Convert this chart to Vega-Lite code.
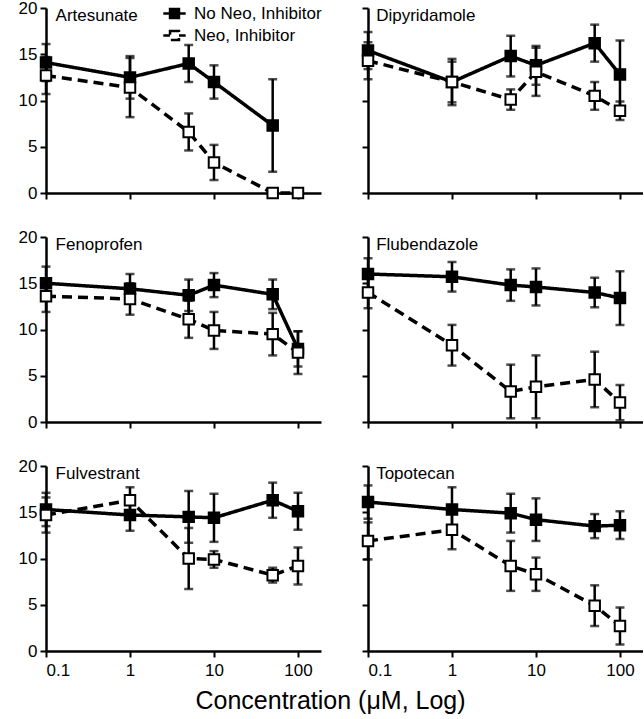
{
  "$schema": "https://vega.github.io/schema/vega-lite/v6.json",
  "padding": {"left": 18, "top": -1, "right": 0, "bottom": 4},
  "background": "white",
  "config": {
    "view": {"stroke": null},
    "font": "Liberation Sans",
    "axis": {"domainColor": "black", "domainWidth": 2.5, "tickColor": "black", "tickWidth": 2, "tickSize": 6, "labelFont": "Liberation Sans", "labelFontSize": 17, "labelColor": "black", "grid": false, "labelPadding": 3},
    "title": {"font": "Liberation Sans", "fontSize": 25, "fontWeight": "normal", "color": "black"}
  },
  "title": {"text": "Concentration (μM, Log)", "orient": "bottom", "anchor": "middle", "offset": 11},
  "columns": 2,
  "spacing": {"row": 44, "column": 47},
  "bounds": "flush",
  "datasets": {
    "d": [
      {"drug": "Artesunate", "group": "No Neo, Inhibitor", "conc": 0.1, "mean": 14.1, "err": 2.0},
      {"drug": "Artesunate", "group": "No Neo, Inhibitor", "conc": 1, "mean": 12.5, "err": 2.3},
      {"drug": "Artesunate", "group": "No Neo, Inhibitor", "conc": 5, "mean": 14.0, "err": 2.0},
      {"drug": "Artesunate", "group": "No Neo, Inhibitor", "conc": 10, "mean": 12.0, "err": 1.8},
      {"drug": "Artesunate", "group": "No Neo, Inhibitor", "conc": 50, "mean": 7.3, "err": 5.0},
      {"drug": "Artesunate", "group": "Neo, Inhibitor", "conc": 0.1, "mean": 12.7, "err": 2.0},
      {"drug": "Artesunate", "group": "Neo, Inhibitor", "conc": 1, "mean": 11.4, "err": 3.2},
      {"drug": "Artesunate", "group": "Neo, Inhibitor", "conc": 5, "mean": 6.6, "err": 2.0},
      {"drug": "Artesunate", "group": "Neo, Inhibitor", "conc": 10, "mean": 3.3, "err": 1.9},
      {"drug": "Artesunate", "group": "Neo, Inhibitor", "conc": 50, "mean": 0, "err": 0},
      {"drug": "Artesunate", "group": "Neo, Inhibitor", "conc": 100, "mean": 0, "err": 0},
      {"drug": "Dipyridamole", "group": "No Neo, Inhibitor", "conc": 0.1, "mean": 15.4, "err": 2.0},
      {"drug": "Dipyridamole", "group": "No Neo, Inhibitor", "conc": 1, "mean": 12.0, "err": 2.5},
      {"drug": "Dipyridamole", "group": "No Neo, Inhibitor", "conc": 5, "mean": 14.8, "err": 2.2},
      {"drug": "Dipyridamole", "group": "No Neo, Inhibitor", "conc": 10, "mean": 13.8, "err": 2.1},
      {"drug": "Dipyridamole", "group": "No Neo, Inhibitor", "conc": 50, "mean": 16.2, "err": 2.0},
      {"drug": "Dipyridamole", "group": "No Neo, Inhibitor", "conc": 100, "mean": 12.8, "err": 3.7},
      {"drug": "Dipyridamole", "group": "Neo, Inhibitor", "conc": 0.1, "mean": 14.3, "err": 2.0},
      {"drug": "Dipyridamole", "group": "Neo, Inhibitor", "conc": 1, "mean": 12.0, "err": 2.2},
      {"drug": "Dipyridamole", "group": "Neo, Inhibitor", "conc": 5, "mean": 10.1, "err": 1.1},
      {"drug": "Dipyridamole", "group": "Neo, Inhibitor", "conc": 10, "mean": 13.1, "err": 2.6},
      {"drug": "Dipyridamole", "group": "Neo, Inhibitor", "conc": 50, "mean": 10.5, "err": 1.5},
      {"drug": "Dipyridamole", "group": "Neo, Inhibitor", "conc": 100, "mean": 8.9, "err": 1.0},
      {"drug": "Fenoprofen", "group": "No Neo, Inhibitor", "conc": 0.1, "mean": 15.0, "err": 1.8},
      {"drug": "Fenoprofen", "group": "No Neo, Inhibitor", "conc": 1, "mean": 14.4, "err": 1.6},
      {"drug": "Fenoprofen", "group": "No Neo, Inhibitor", "conc": 5, "mean": 13.7, "err": 1.7},
      {"drug": "Fenoprofen", "group": "No Neo, Inhibitor", "conc": 10, "mean": 14.8, "err": 1.3},
      {"drug": "Fenoprofen", "group": "No Neo, Inhibitor", "conc": 50, "mean": 13.8, "err": 1.6},
      {"drug": "Fenoprofen", "group": "No Neo, Inhibitor", "conc": 100, "mean": 7.9, "err": 1.9},
      {"drug": "Fenoprofen", "group": "Neo, Inhibitor", "conc": 0.1, "mean": 13.6, "err": 1.7},
      {"drug": "Fenoprofen", "group": "Neo, Inhibitor", "conc": 1, "mean": 13.3, "err": 1.7},
      {"drug": "Fenoprofen", "group": "Neo, Inhibitor", "conc": 5, "mean": 11.1, "err": 2.0},
      {"drug": "Fenoprofen", "group": "Neo, Inhibitor", "conc": 10, "mean": 9.9, "err": 2.0},
      {"drug": "Fenoprofen", "group": "Neo, Inhibitor", "conc": 50, "mean": 9.5, "err": 2.3},
      {"drug": "Fenoprofen", "group": "Neo, Inhibitor", "conc": 100, "mean": 7.5, "err": 2.3},
      {"drug": "Flubendazole", "group": "No Neo, Inhibitor", "conc": 0.1, "mean": 16.0, "err": 1.7},
      {"drug": "Flubendazole", "group": "No Neo, Inhibitor", "conc": 1, "mean": 15.7, "err": 1.6},
      {"drug": "Flubendazole", "group": "No Neo, Inhibitor", "conc": 5, "mean": 14.8, "err": 1.7},
      {"drug": "Flubendazole", "group": "No Neo, Inhibitor", "conc": 10, "mean": 14.6, "err": 2.0},
      {"drug": "Flubendazole", "group": "No Neo, Inhibitor", "conc": 50, "mean": 14.0, "err": 1.6},
      {"drug": "Flubendazole", "group": "No Neo, Inhibitor", "conc": 100, "mean": 13.4, "err": 2.9},
      {"drug": "Flubendazole", "group": "Neo, Inhibitor", "conc": 0.1, "mean": 14.0, "err": 1.7},
      {"drug": "Flubendazole", "group": "Neo, Inhibitor", "conc": 1, "mean": 8.3, "err": 2.2},
      {"drug": "Flubendazole", "group": "Neo, Inhibitor", "conc": 5, "mean": 3.3, "err": 2.9},
      {"drug": "Flubendazole", "group": "Neo, Inhibitor", "conc": 10, "mean": 3.8, "err": 3.4},
      {"drug": "Flubendazole", "group": "Neo, Inhibitor", "conc": 50, "mean": 4.6, "err": 3.0},
      {"drug": "Flubendazole", "group": "Neo, Inhibitor", "conc": 100, "mean": 2.1, "err": 1.9},
      {"drug": "Fulvestrant", "group": "No Neo, Inhibitor", "conc": 0.1, "mean": 15.3, "err": 1.8},
      {"drug": "Fulvestrant", "group": "No Neo, Inhibitor", "conc": 1, "mean": 14.7, "err": 1.7},
      {"drug": "Fulvestrant", "group": "No Neo, Inhibitor", "conc": 5, "mean": 14.5, "err": 2.8},
      {"drug": "Fulvestrant", "group": "No Neo, Inhibitor", "conc": 10, "mean": 14.4, "err": 2.6},
      {"drug": "Fulvestrant", "group": "No Neo, Inhibitor", "conc": 50, "mean": 16.3, "err": 1.9},
      {"drug": "Fulvestrant", "group": "No Neo, Inhibitor", "conc": 100, "mean": 15.1, "err": 2.0},
      {"drug": "Fulvestrant", "group": "Neo, Inhibitor", "conc": 0.1, "mean": 14.7, "err": 1.9},
      {"drug": "Fulvestrant", "group": "Neo, Inhibitor", "conc": 1, "mean": 16.3, "err": 1.4},
      {"drug": "Fulvestrant", "group": "Neo, Inhibitor", "conc": 5, "mean": 10.0, "err": 3.3},
      {"drug": "Fulvestrant", "group": "Neo, Inhibitor", "conc": 10, "mean": 9.9, "err": 0.9},
      {"drug": "Fulvestrant", "group": "Neo, Inhibitor", "conc": 50, "mean": 8.2, "err": 0.8},
      {"drug": "Fulvestrant", "group": "Neo, Inhibitor", "conc": 100, "mean": 9.2, "err": 2.0},
      {"drug": "Topotecan", "group": "No Neo, Inhibitor", "conc": 0.1, "mean": 16.1, "err": 1.8},
      {"drug": "Topotecan", "group": "No Neo, Inhibitor", "conc": 1, "mean": 15.3, "err": 2.4},
      {"drug": "Topotecan", "group": "No Neo, Inhibitor", "conc": 5, "mean": 14.9, "err": 2.1},
      {"drug": "Topotecan", "group": "No Neo, Inhibitor", "conc": 10, "mean": 14.2, "err": 2.3},
      {"drug": "Topotecan", "group": "No Neo, Inhibitor", "conc": 50, "mean": 13.5, "err": 1.3},
      {"drug": "Topotecan", "group": "No Neo, Inhibitor", "conc": 100, "mean": 13.6, "err": 1.5},
      {"drug": "Topotecan", "group": "Neo, Inhibitor", "conc": 0.1, "mean": 11.9, "err": 2.0},
      {"drug": "Topotecan", "group": "Neo, Inhibitor", "conc": 1, "mean": 13.1, "err": 2.1},
      {"drug": "Topotecan", "group": "Neo, Inhibitor", "conc": 5, "mean": 9.2, "err": 2.7},
      {"drug": "Topotecan", "group": "Neo, Inhibitor", "conc": 10, "mean": 8.3, "err": 1.8},
      {"drug": "Topotecan", "group": "Neo, Inhibitor", "conc": 50, "mean": 4.9, "err": 2.2},
      {"drug": "Topotecan", "group": "Neo, Inhibitor", "conc": 100, "mean": 2.7, "err": 2.0}
    ]
  },
  "concat": [
      {"width": 275, "height": 185, "data": {"name": "d"}, "transform": [{"filter": {"field": "drug", "equal": "Artesunate"}}],
       "encoding": {"x": {"field": "conc", "type": "quantitative", "scale": {"type": "log", "domain": [0.1, 188]}, "axis": {"title": null, "values": [0.1, 1, 10, 100], "labels": false}},
                    "y": {"field": "mean", "type": "quantitative", "scale": {"domain": [0, 20], "nice": false}, "axis": {"title": null, "values": [0, 5, 10, 15, 20]}}},
       "layer": [
         {"mark": {"type": "line", "color": "black", "strokeWidth": 3.5}, "encoding": {"strokeDash": {"field": "group", "type": "nominal", "title": "", "scale": {"domain": ["No Neo, Inhibitor", "Neo, Inhibitor"], "range": [[1, 0], [10, 6]]}, "legend": {"orient": "none", "legendX": 116, "legendY": -7, "title": null, "labelFontSize": 17, "labelFont": "Liberation Sans", "labelColor": "black", "symbolStrokeColor": "black", "symbolStrokeWidth": 2.5, "symbolType": "M-1,0H-0.4M0.4,0H1M-0.4,-0.4H0.4V0.4H-0.4Z", "symbolSize": 500, "rowPadding": 0, "labelOffset": 7}}}},
         {"mark": {"type": "errorbar", "ticks": {"size": 9}, "color": "black", "thickness": 2.5}, "encoding": {"yError": {"field": "err"}, "detail": {"field": "group"}}},
         {"mark": {"type": "point", "shape": "square", "size": 110, "filled": true, "stroke": "black", "strokeWidth": 2, "opacity": 1}, "encoding": {"fill": {"field": "group", "type": "nominal", "title": "", "scale": {"domain": ["No Neo, Inhibitor", "Neo, Inhibitor"], "range": ["black", "white"]}, "legend": {"orient": "none", "legendX": 116, "legendY": -7, "title": null, "labelFontSize": 17, "labelFont": "Liberation Sans", "labelColor": "black", "symbolStrokeColor": "black", "symbolStrokeWidth": 2.5, "symbolType": "M-1,0H-0.4M0.4,0H1M-0.4,-0.4H0.4V0.4H-0.4Z", "symbolSize": 500, "rowPadding": 0, "labelOffset": 7}}}},
         {"transform": [{"filter": "datum.conc === 0.1 && datum.group === 'No Neo, Inhibitor'"}], "mark": {"type": "text", "align": "left", "baseline": "middle", "fontSize": 17, "font": "Liberation Sans", "color": "black"}, "encoding": {"x": {"datum": 0.13}, "y": {"datum": 19.1}, "text": {"field": "drug"}}}
       ]},
      {"width": 275, "height": 185, "data": {"name": "d"}, "transform": [{"filter": {"field": "drug", "equal": "Dipyridamole"}}],
       "encoding": {"x": {"field": "conc", "type": "quantitative", "scale": {"type": "log", "domain": [0.1, 188]}, "axis": {"title": null, "values": [0.1, 1, 10, 100], "labels": false}},
                    "y": {"field": "mean", "type": "quantitative", "scale": {"domain": [0, 20], "nice": false}, "axis": {"title": null, "values": [0, 5, 10, 15, 20], "labels": false}}},
       "layer": [
         {"mark": {"type": "line", "color": "black", "strokeWidth": 3.5}, "encoding": {"strokeDash": {"field": "group", "type": "nominal", "title": "", "scale": {"domain": ["No Neo, Inhibitor", "Neo, Inhibitor"], "range": [[1, 0], [10, 6]]}}}},
         {"mark": {"type": "errorbar", "ticks": {"size": 9}, "color": "black", "thickness": 2.5}, "encoding": {"yError": {"field": "err"}, "detail": {"field": "group"}}},
         {"mark": {"type": "point", "shape": "square", "size": 110, "filled": true, "stroke": "black", "strokeWidth": 2, "opacity": 1}, "encoding": {"fill": {"field": "group", "type": "nominal", "title": "", "scale": {"domain": ["No Neo, Inhibitor", "Neo, Inhibitor"], "range": ["black", "white"]}}}},
         {"transform": [{"filter": "datum.conc === 0.1 && datum.group === 'No Neo, Inhibitor'"}], "mark": {"type": "text", "align": "left", "baseline": "middle", "fontSize": 17, "font": "Liberation Sans", "color": "black"}, "encoding": {"x": {"datum": 0.125}, "y": {"datum": 19.1}, "text": {"field": "drug"}}}
       ]},
      {"width": 275, "height": 185, "data": {"name": "d"}, "transform": [{"filter": {"field": "drug", "equal": "Fenoprofen"}}],
       "encoding": {"x": {"field": "conc", "type": "quantitative", "scale": {"type": "log", "domain": [0.1, 188]}, "axis": {"title": null, "values": [0.1, 1, 10, 100], "labels": false}},
                    "y": {"field": "mean", "type": "quantitative", "scale": {"domain": [0, 20], "nice": false}, "axis": {"title": null, "values": [0, 5, 10, 15, 20]}}},
       "layer": [
         {"mark": {"type": "line", "color": "black", "strokeWidth": 3.5}, "encoding": {"strokeDash": {"field": "group", "type": "nominal", "title": "", "scale": {"domain": ["No Neo, Inhibitor", "Neo, Inhibitor"], "range": [[1, 0], [10, 6]]}}}},
         {"mark": {"type": "errorbar", "ticks": {"size": 9}, "color": "black", "thickness": 2.5}, "encoding": {"yError": {"field": "err"}, "detail": {"field": "group"}}},
         {"mark": {"type": "point", "shape": "square", "size": 110, "filled": true, "stroke": "black", "strokeWidth": 2, "opacity": 1}, "encoding": {"fill": {"field": "group", "type": "nominal", "title": "", "scale": {"domain": ["No Neo, Inhibitor", "Neo, Inhibitor"], "range": ["black", "white"]}}}},
         {"transform": [{"filter": "datum.conc === 0.1 && datum.group === 'No Neo, Inhibitor'"}], "mark": {"type": "text", "align": "left", "baseline": "middle", "fontSize": 17, "font": "Liberation Sans", "color": "black"}, "encoding": {"x": {"datum": 0.13}, "y": {"datum": 19.1}, "text": {"field": "drug"}}}
       ]},
      {"width": 275, "height": 185, "data": {"name": "d"}, "transform": [{"filter": {"field": "drug", "equal": "Flubendazole"}}],
       "encoding": {"x": {"field": "conc", "type": "quantitative", "scale": {"type": "log", "domain": [0.1, 188]}, "axis": {"title": null, "values": [0.1, 1, 10, 100], "labels": false}},
                    "y": {"field": "mean", "type": "quantitative", "scale": {"domain": [0, 20], "nice": false}, "axis": {"title": null, "values": [0, 5, 10, 15, 20], "labels": false}}},
       "layer": [
         {"mark": {"type": "line", "color": "black", "strokeWidth": 3.5}, "encoding": {"strokeDash": {"field": "group", "type": "nominal", "title": "", "scale": {"domain": ["No Neo, Inhibitor", "Neo, Inhibitor"], "range": [[1, 0], [10, 6]]}}}},
         {"mark": {"type": "errorbar", "ticks": {"size": 9}, "color": "black", "thickness": 2.5}, "encoding": {"yError": {"field": "err"}, "detail": {"field": "group"}}},
         {"mark": {"type": "point", "shape": "square", "size": 110, "filled": true, "stroke": "black", "strokeWidth": 2, "opacity": 1}, "encoding": {"fill": {"field": "group", "type": "nominal", "title": "", "scale": {"domain": ["No Neo, Inhibitor", "Neo, Inhibitor"], "range": ["black", "white"]}}}},
         {"transform": [{"filter": "datum.conc === 0.1 && datum.group === 'No Neo, Inhibitor'"}], "mark": {"type": "text", "align": "left", "baseline": "middle", "fontSize": 17, "font": "Liberation Sans", "color": "black"}, "encoding": {"x": {"datum": 0.125}, "y": {"datum": 19.1}, "text": {"field": "drug"}}}
       ]},
      {"width": 275, "height": 185, "data": {"name": "d"}, "transform": [{"filter": {"field": "drug", "equal": "Fulvestrant"}}],
       "encoding": {"x": {"field": "conc", "type": "quantitative", "scale": {"type": "log", "domain": [0.1, 188]}, "axis": {"title": null, "values": [0.1, 1, 10, 100], "format": "~g", "labelPadding": 5}},
                    "y": {"field": "mean", "type": "quantitative", "scale": {"domain": [0, 20], "nice": false}, "axis": {"title": null, "values": [0, 5, 10, 15, 20]}}},
       "layer": [
         {"mark": {"type": "line", "color": "black", "strokeWidth": 3.5}, "encoding": {"strokeDash": {"field": "group", "type": "nominal", "title": "", "scale": {"domain": ["No Neo, Inhibitor", "Neo, Inhibitor"], "range": [[1, 0], [10, 6]]}}}},
         {"mark": {"type": "errorbar", "ticks": {"size": 9}, "color": "black", "thickness": 2.5}, "encoding": {"yError": {"field": "err"}, "detail": {"field": "group"}}},
         {"mark": {"type": "point", "shape": "square", "size": 110, "filled": true, "stroke": "black", "strokeWidth": 2, "opacity": 1}, "encoding": {"fill": {"field": "group", "type": "nominal", "title": "", "scale": {"domain": ["No Neo, Inhibitor", "Neo, Inhibitor"], "range": ["black", "white"]}}}},
         {"transform": [{"filter": "datum.conc === 0.1 && datum.group === 'No Neo, Inhibitor'"}], "mark": {"type": "text", "align": "left", "baseline": "middle", "fontSize": 17, "font": "Liberation Sans", "color": "black"}, "encoding": {"x": {"datum": 0.13}, "y": {"datum": 19.1}, "text": {"field": "drug"}}}
       ]},
      {"width": 275, "height": 185, "data": {"name": "d"}, "transform": [{"filter": {"field": "drug", "equal": "Topotecan"}}],
       "encoding": {"x": {"field": "conc", "type": "quantitative", "scale": {"type": "log", "domain": [0.1, 188]}, "axis": {"title": null, "values": [0.1, 1, 10, 100], "format": "~g", "labelPadding": 5}},
                    "y": {"field": "mean", "type": "quantitative", "scale": {"domain": [0, 20], "nice": false}, "axis": {"title": null, "values": [0, 5, 10, 15, 20], "labels": false}}},
       "layer": [
         {"mark": {"type": "line", "color": "black", "strokeWidth": 3.5}, "encoding": {"strokeDash": {"field": "group", "type": "nominal", "title": "", "scale": {"domain": ["No Neo, Inhibitor", "Neo, Inhibitor"], "range": [[1, 0], [10, 6]]}}}},
         {"mark": {"type": "errorbar", "ticks": {"size": 9}, "color": "black", "thickness": 2.5}, "encoding": {"yError": {"field": "err"}, "detail": {"field": "group"}}},
         {"mark": {"type": "point", "shape": "square", "size": 110, "filled": true, "stroke": "black", "strokeWidth": 2, "opacity": 1}, "encoding": {"fill": {"field": "group", "type": "nominal", "title": "", "scale": {"domain": ["No Neo, Inhibitor", "Neo, Inhibitor"], "range": ["black", "white"]}}}},
         {"transform": [{"filter": "datum.conc === 0.1 && datum.group === 'No Neo, Inhibitor'"}], "mark": {"type": "text", "align": "left", "baseline": "middle", "fontSize": 17, "font": "Liberation Sans", "color": "black"}, "encoding": {"x": {"datum": 0.125}, "y": {"datum": 19.1}, "text": {"field": "drug"}}}
       ]}
  ]
}
